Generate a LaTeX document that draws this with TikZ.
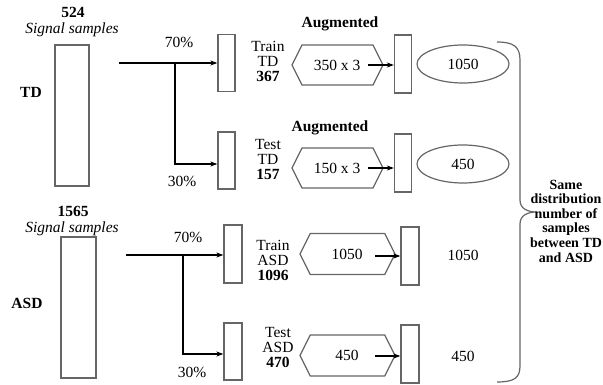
\documentclass[tikz,border=0pt]{standalone}
\usepackage{fontspec}
\setmainfont{Liberation Serif}
\usetikzlibrary{shapes.symbols,shapes.geometric,arrows.meta}
\definecolor{boxgray}{HTML}{666666}
\newcommand{\fs}{\fontsize{15.5}{15}\selectfont}
\tikzset{
  bar/.style={draw=boxgray,line width=1.3pt,inner sep=0pt,minimum width=17pt},
  hexa/.style={draw=boxgray,line width=1.2pt,shape=signal,signal to=west and east,signal pointer angle=127,inner sep=0pt},
  oval/.style={draw=boxgray,line width=1.2pt,ellipse,inner sep=0pt,minimum width=92pt,minimum height=38pt},
  arr/.style={line width=1.5pt,-{Stealth[length=7pt,width=5pt]}},
  lbl/.style={align=center,inner sep=0pt},
  bl/.style={lbl,font=\fs\bfseries},
  il/.style={lbl,font=\fs\itshape},
  brace/.style={draw=boxgray,line width=1.2pt}
}
\begin{document}
\begin{tikzpicture}[x=1pt,y=-1pt,font=\fs]
\useasboundingbox (0,0) rectangle (603,385);
% ---------- TD ----------
\node[bl] (n524) at (73,12) {524};
\node[il] (ss1) at (72,30) {Signal samples};
\node[bl] (tdl) at (31,92) {TD};
\node[bar,minimum width=34pt,minimum height=141pt] (tdbig) at (72,115.5) {};
\node[bar,minimum height=57pt] (trtd) at (226.5,63) {};
\node[bar,minimum height=57pt] (tetd) at (226.5,160.5) {};
\coordinate (s1) at (119,63);
\coordinate (k1) at (175,63);
\coordinate (b1) at (175,164);
\draw[arr] (s1) -- (trtd.west |- s1);
\draw[arr] (k1) -- (b1) -- (tetd.west |- b1);
\node[lbl] (p70a) at (179,42) {70\%};
\node[lbl] (p30a) at (182,181) {30\%};
\node[lbl] (trtdl) at (268,61) {Train\\TD\\\textbf{367}};
\node[lbl] (tetdl) at (268,160) {Test\\TD\\\textbf{157}};
\node[bl] (aug1) at (340,24) {Augmented};
\node[bl] (aug2) at (330,128) {Augmented};
\node[hexa,minimum width=91pt,minimum height=40pt] (h1) at (337.5,65) {};
\node[lbl] (h1t) at (337,65) {350 x 3};
\node[hexa,minimum width=91pt,minimum height=40pt] (h2) at (337.5,168) {};
\node[lbl] (h2t) at (337,168) {150 x 3};
\node[bar,minimum height=58pt] (r1) at (403,64) {};
\node[bar,minimum height=58pt] (r2) at (403,163) {};
\coordinate (a1) at (368,65);
\coordinate (a2) at (368,168);
\draw[arr] (a1) -- (r1.west |- a1);
\draw[arr] (a2) -- (r2.west |- a2);
\node[oval] (e1) at (463,64) {1050};
\node[oval] (e2) at (463,164) {450};
% ---------- ASD ----------
\node[bl] (n1565) at (73,211) {1565};
\node[il] (ss2) at (72,229) {Signal samples};
\node[bl] (asdl) at (27,303) {ASD};
\node[bar,minimum width=35pt,minimum height=141pt] (asdbig) at (78.5,307.5) {};
\node[bar,minimum width=18pt,minimum height=58pt] (trasd) at (233,254) {};
\node[bar,minimum width=18pt,minimum height=57pt] (teasd) at (233,351.5) {};
\coordinate (s2) at (126,255);
\coordinate (k2) at (183,255);
\coordinate (b2) at (183,354);
\draw[arr] (s2) -- (trasd.west |- s2);
\draw[arr] (k2) -- (b2) -- (teasd.west |- b2);
\node[lbl] (p70b) at (188,237) {70\%};
\node[lbl] (p30b) at (192,372) {30\%};
\node[lbl] (trasdl) at (273,260) {Train\\ASD\\\textbf{1096}};
\node[lbl] (teasdl) at (278,347) {Test\\ASD\\\textbf{470}};
\node[hexa,minimum width=95pt,minimum height=41pt] (h3) at (347.5,254) {};
\node[lbl] (h3t) at (347,254) {1050};
\node[hexa,minimum width=95pt,minimum height=41pt] (h4) at (347.5,355.5) {};
\node[lbl] (h4t) at (347,355.5) {450};
\node[bar,minimum width=18pt,minimum height=58pt] (r3) at (410,256) {};
\node[bar,minimum width=18pt,minimum height=58pt] (r4) at (410,354) {};
\coordinate (a3) at (375,256);
\coordinate (a4) at (375,356);
\draw[arr] (a3) -- (r3.west |- a3);
\draw[arr] (a4) -- (r4.west |- a4);
\node[lbl] (v3) at (463,255) {1050};
\node[lbl] (v4) at (463,356) {450};
% ---------- brace ----------
\draw[brace] (497,42) .. controls (514,42) and (520,47) .. (520,60) -- (520,200)
  .. controls (520,209) and (528,212) .. (537,212)
  .. controls (528,212) and (520,215) .. (520,224) -- (520,366)
  .. controls (520,378) and (514,382) .. (497,382);
\node[lbl,font=\fontsize{14}{14.6}\selectfont\bfseries] (same) at (566,221) {Same\\distribution\\number of\\samples\\between TD\\and ASD};
\end{tikzpicture}
\end{document}
